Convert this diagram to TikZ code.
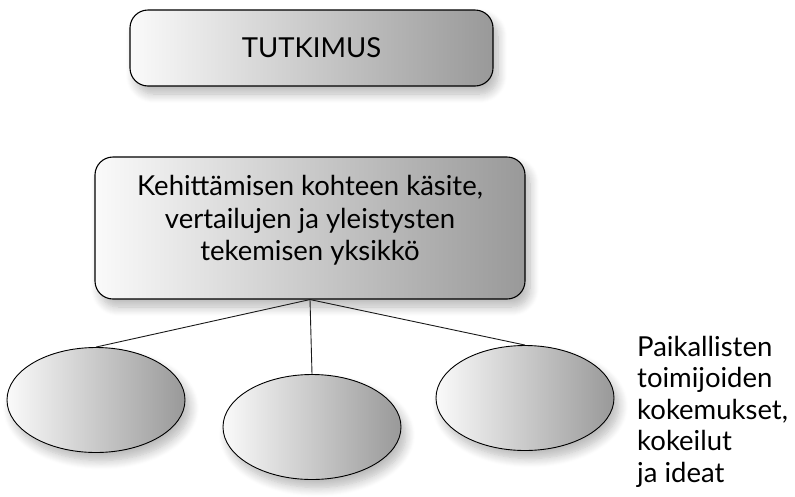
\documentclass[tikz,border=0pt]{standalone}
\usepackage{fontspec}
\setmainfont{Lato}
\usepackage{tikz}
\usetikzlibrary{shapes.geometric,shadows.blur}
\definecolor{edge}{HTML}{1A1A1A}
\definecolor{lite}{HTML}{FAFAFA}
\definecolor{dark}{HTML}{999999}
\tikzset{
  soft/.style={blur shadow={shadow xshift=5pt, shadow yshift=-8pt,
      shadow blur radius=9pt, shadow blur steps=10, shadow opacity=28}},
  card/.style={draw=black, line width=1.1pt, rounded corners=18pt,
      left color=lite, right color=dark, soft, align=center,
      inner sep=0pt, font=\fontsize{27.5}{32.5}\selectfont},
  blob/.style={ellipse, draw=black, line width=0.9pt, left color=lite,
      right color=dark, soft, inner sep=0pt,
      minimum width=178pt, minimum height=105pt},
  link/.style={draw=edge, line width=0.9pt},
  lab/.style={align=left, inner sep=0pt, font=\fontsize{27.5}{31.5}\selectfont}
}
\begin{document}
\begin{tikzpicture}[x=1pt, y=-1pt]
  \useasboundingbox (0,0) rectangle (795,496);
  % boxes
  \node[card, minimum width=363pt, minimum height=76pt] (study) at (311.5,48) {TUTKIMUS};
  \node[card, minimum width=430pt, minimum height=142pt] (unit) at (310,228)
    {Kehittämisen kohteen käsite,\\ vertailujen ja yleistysten\\ tekemisen yksikkö\rule[-20pt]{0pt}{20pt}};
  % cases
  \node[blob] (caseA) at (96,400) {};
  \node[blob] (caseB) at (312,427) {};
  \node[blob] (caseC) at (525,398) {};
  \draw[link] (unit.south) -- (caseA.north);
  \draw[link] (unit.south) -- (caseB.north);
  \draw[link] (unit.south) -- (caseC.north);
  \node[lab, anchor=north west] (local) at (637,336)
    {Paikallisten\\ toimijoiden\\ kokemukset,\\ kokeilut\\ ja ideat};
\end{tikzpicture}
\end{document}
